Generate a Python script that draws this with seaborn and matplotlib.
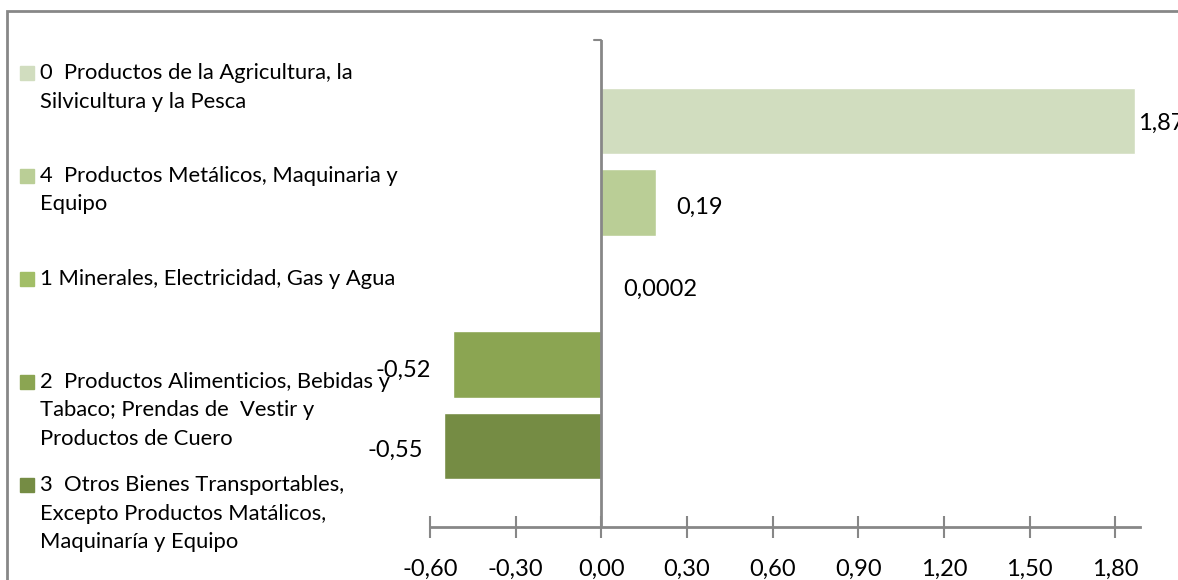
import numpy as np
import pandas as pd
import matplotlib
matplotlib.use("Agg")
import matplotlib.pyplot as plt
from matplotlib.patches import Rectangle
import seaborn as sns

# ------------------------------------------------------------------
# data
codes = ["0", "4", "1", "2", "3"]
legend_labels = [
    "0  Productos de la Agricultura, la\nSilvicultura y la Pesca",
    "4  Productos Metálicos, Maquinaria y\nEquipo",
    "1 Minerales, Electricidad, Gas y Agua",
    "2  Productos Alimenticios, Bebidas y\nTabaco; Prendas de  Vestir y\nProductos de Cuero",
    "3  Otros Bienes Transportables,\nExcepto Productos Matálicos,\nMaquinaría y Equipo",
]
values = [1.87, 0.19, 0.0002, -0.52, -0.55]
value_labels = ["1,87", "0,19", "0,0002", "-0,52", "-0,55"]
colors = ["#D1DDBF", "#BACE96", "#A2BE67", "#8BA552", "#758C44"]
xticks = [-0.60, -0.30, 0.00, 0.30, 0.60, 0.90, 1.20, 1.50, 1.80]
xtick_labels = ["-0,60", "-0,30", "0,00", "0,30", "0,60", "0,90", "1,20", "1,50", "1,80"]

df = pd.DataFrame({"code": codes, "value": values})

# ------------------------------------------------------------------
sns.set_style("white")
plt.rcParams["font.family"] = ["Lato", "DejaVu Sans"]

W, H = 1178, 580
fig = plt.figure(figsize=(W / 100, H / 100), dpi=100)
grey = "#878787"

ax = fig.add_axes([430 / W, 1 - 527 / H, (1140 - 430) / W, (527 - 40) / H])
sns.barplot(data=df, x="value", y="code", hue="code", palette=colors,
            order=codes, hue_order=codes, dodge=False, legend=False,
            width=0.82, orient="h", ax=ax, saturation=1)

ax.set_xlim(-0.6, 1.887)
ax.set_ylim(5, -1)
ax.set_xlabel("")
ax.set_ylabel("")
ax.set_yticks([])
ax.set_xticks(xticks)
ax.set_xticklabels(xtick_labels)
ax.tick_params(axis="x", bottom=True, direction="inout", length=16, width=1.5,
               color=grey, labelsize=17, pad=15, labelcolor="black")
for s in ["top", "right", "left"]:
    ax.spines[s].set_visible(False)
ax.spines["bottom"].set_color(grey)
ax.spines["bottom"].set_linewidth(2)

# vertical axis at zero
ax.axvline(0, color=grey, lw=2, zorder=3)
ax.plot([-0.025, 0], [-1, -1], color=grey, lw=1.5, clip_on=False)

# data labels (a bit lower than centred, like the original)
pads = [2, 15, 16, 16, 15]
drops = [-1.5, -3.5, -4, -4, -3]
for cont, lab, p, d in zip(ax.containers, value_labels, pads, drops):
    for t in ax.bar_label(cont, labels=[lab], padding=p, fontsize=17, color="black"):
        t.xyann = (t.xyann[0], d)

# legend drawn at fixed slots like the original
line_h = 28.5
for i, (lab, col) in enumerate(zip(legend_labels, colors)):
    yc = 73 + 103 * i
    fig.patches.append(Rectangle((20 / W, 1 - (yc + 7) / H), 14 / W, 14 / H,
                                 transform=fig.transFigure, color=col))
    for k, line in enumerate(lab.split("\n")):
        fig.text(40 / W, 1 - (yc + k * line_h) / H, line, fontsize=15.8,
                 va="center", ha="left", color="black")

# chart frame (cut at right and bottom)
fig.patches.append(Rectangle((6.5 / W, -0.2), 2, 1.2 - 10.5 / H, fill=False,
                             edgecolor=grey, lw=2, transform=fig.transFigure))

fig.savefig("out.png", dpi=100)
